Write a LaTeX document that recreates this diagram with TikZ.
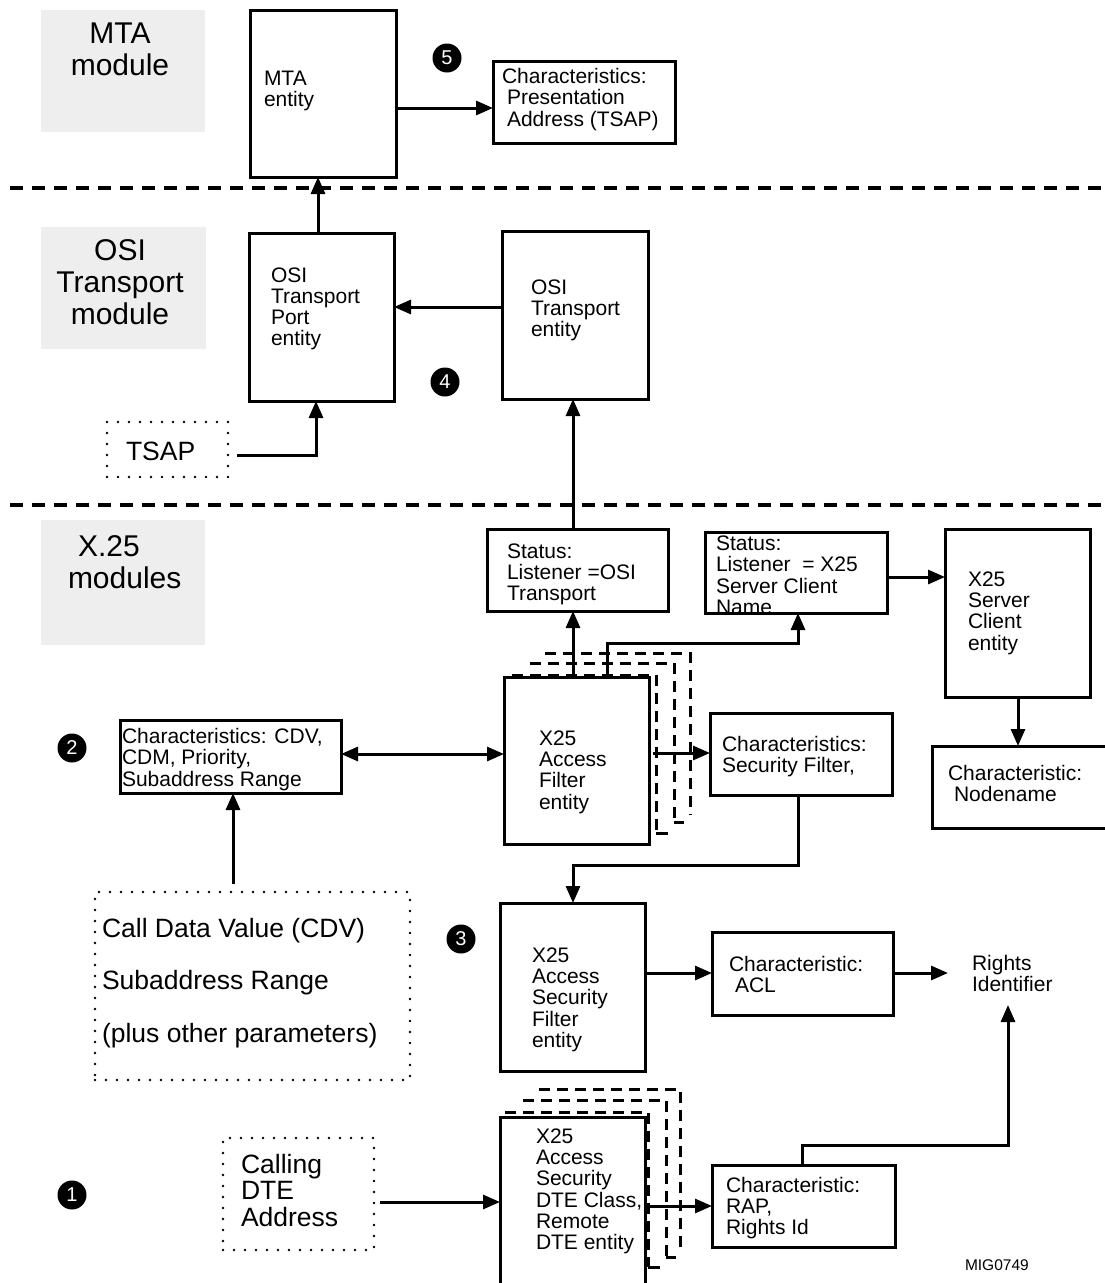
\documentclass[tikz,border=0pt]{standalone}
\usepackage{fontspec}
\setmainfont{Liberation Sans}
\usetikzlibrary{arrows.meta,calc}
\newcommand{\tl}[1]{\begin{tabular}[t]{@{}l@{}}#1\end{tabular}}
\newcommand{\tc}[1]{\begin{tabular}[t]{@{}c@{}}#1\end{tabular}}
\definecolor{modgray}{HTML}{EEEEEE}
\tikzset{
  every node/.style={inner sep=0pt, outer sep=0pt},
  box/.style={draw, line width=3pt, fill=white, anchor=north west, inner sep=0pt},
  dotbox/.style={draw, line width=2.6pt, dash pattern=on 0pt off 11pt, line cap=round, anchor=north west, inner sep=0pt},
  modbox/.style={fill=modgray, draw=none, anchor=north west, inner sep=0pt},
  txt/.style={anchor=base west, font=\fontsize{21}{21}\selectfont},
  bigtxt/.style={font=\fontsize{26.5}{26}\selectfont},
  modlabel/.style={anchor=base, font=\fontsize{30}{32}\selectfont},
  sepline/.style={line width=4pt, dash pattern=on 13pt off 9pt},
  layer/.style={line width=3pt, dash pattern=on 11pt off 7pt},
  tick/.style={line width=3pt},
  arr/.style={line width=3pt, -{Triangle[length=17pt,width=14pt]}},
  darr/.style={line width=3pt, {Triangle[length=17pt,width=14pt]}-{Triangle[length=17pt,width=14pt]}},
  num/.style={circle, fill=black, minimum size=29pt, text=white, font=\fontsize{20}{20}\selectfont},
}
\begin{document}
\begin{tikzpicture}[x=1pt,y=-1pt]
\useasboundingbox (0,0) rectangle (1105,1283);
\fill[white] (0,0) rectangle (1105,1283);
\clip (0,0) rectangle (1105,1283);

% module labels
\node[modbox, minimum width=164pt, minimum height=122pt] (gmta) at (41,10) {};
\node[modbox, minimum width=165pt, minimum height=122pt] (gosi) at (41,227) {};
\node[modbox, minimum width=164pt, minimum height=125pt] (gx25) at (41,520) {};
\node[modlabel] (lmta) at (120,43) {\tc{MTA\\module}};
\node[modlabel] (losi) at (120,260) {\tc{OSI\\Transport\\module}};
\node[modlabel, anchor=base west] (lx25) at (68,556) {\tl{\hspace{10pt}X.25\\modules}};

% separators
\draw[sepline] (10,188) -- (1105,188);
\draw[sepline] (10,505) -- (1105,505);

% ---- MTA level
\node[box, minimum width=146pt, minimum height=167pt] (mta) at (250,10) {};
\node[txt] (tmta) at (264,85) {\tl{MTA\\entity}};
\node[box, minimum width=182pt, minimum height=82pt] (tsapc) at (493,61) {};
\node[txt] (ttsapc) at (502,83) {\tl{Characteristics:\\\hspace{5pt}Presentation\\\hspace{5pt}Address (TSAP)}};
\node[num] (n5) at (447,58) {5};

% ---- OSI transport level
\node[box, minimum width=145pt, minimum height=168pt] (port) at (249,233) {};
\node[txt] (tport) at (271,282) {\tl{OSI\\Transport\\Port\\entity}};
\node[box, minimum width=146pt, minimum height=168pt] (osit) at (502,231) {};
\node[txt] (tosit) at (531,294) {\tl{OSI\\Transport\\entity}};
\node[num] (n4) at (445,382) {4};
\node[dotbox, minimum width=121pt, minimum height=55pt] (tsap) at (107,422) {};
\node[txt, bigtxt] (ttsap) at (126,460) {TSAP};

% ---- X.25 level
\node[box, minimum width=181pt, minimum height=82pt] (stosi) at (487,529) {};
\node[txt] (tstosi) at (507,558) {\tl{Status:\\Listener =OSI\\Transport}};
\node[txt] (tstx) at (716,550) {\tl{Status:\\Listener\ \ = X25\\Server Client\\Name}};
\node[box, fill=none, minimum width=182pt, minimum height=81pt] (stx) at (705,532) {};
\node[box, minimum width=145pt, minimum height=168pt] (sce) at (945,529) {};
\node[txt] (tsce) at (968,586) {\tl{X25\\Server\\Client\\entity}};
\node[box, minimum width=190pt, minimum height=82pt] (nodebox) at (932,746) {};
\node[txt] (tnode) at (948,780) {\tl{Characteristic:\\\hspace{6pt}Nodename}};

\node[box, minimum width=221pt, minimum height=73pt] (cdv) at (120,720) {};
\node[txt] (tcdv) at (122,743) {\tl{Characteristics: CDV,\\CDM, Priority,\\Subaddress Range}};
\node[num] (n2) at (72,748) {2};

% filter stack
\draw[layer] (545,653) -- (690,653) -- (690,815);
\draw[layer] (530,663) -- (674,663) -- (674,822);
\draw[tick] (674,822) -- (684,822);
\draw[layer] (512,675) -- (656,675) -- (656,833);
\draw[tick] (656,833) -- (668,833);
\node[box, minimum width=145pt, minimum height=167pt] (afe) at (504,677) {};
\node[txt] (tafe) at (539,745) {\tl{X25\\Access\\Filter\\entity}};

\node[box, minimum width=182pt, minimum height=82pt] (sfc) at (710,713) {};
\node[txt] (tsfc) at (722,751) {\tl{Characteristics:\\Security Filter,}};

\node[dotbox, minimum width=315pt, minimum height=188pt] (cdata) at (95,892) {};
\node[txt, font=\fontsize{26.5}{52.5}\selectfont] (tcdata) at (102,937) {\tl{Call Data Value (CDV)\\Subaddress Range\\(plus other parameters)}};
\node[num] (n3) at (461,939) {3};

\node[box, minimum width=145pt, minimum height=168pt] (asf) at (500,903) {};
\node[txt] (tasf) at (532,962) {\tl{X25\\Access\\Security\\Filter\\entity}};
\node[box, minimum width=181pt, minimum height=83pt] (acl) at (712,932) {};
\node[txt] (tacl) at (729,971) {\tl{Characteristic:\\\hspace{6pt}ACL}};
\node[txt] (rights) at (972,970) {\tl{Rights\\Identifier}};
\coordinate (rin) at (948,973);
\coordinate (rbot) at (1008,1005);

% DTE stack
\draw[layer] (539,1089) -- (680,1089) -- (680,1252);
\draw[layer] (523,1100) -- (666,1100) -- (666,1257);
\draw[tick] (666,1257) -- (676,1257);
\draw[layer] (505,1112) -- (648,1112) -- (648,1267);
\draw[tick] (648,1267) -- (660,1267);
\node[box, minimum width=145pt, minimum height=190pt] (dte) at (500,1117) {};
\node[txt] (tdte) at (536,1143) {\tl{X25\\Access\\Security\\DTE Class,\\Remote\\DTE entity}};

\node[dotbox, minimum width=151pt, minimum height=112pt] (calling) at (223,1138) {};
\node[txt, bigtxt] (tcalling) at (241,1173) {\tl{Calling\\DTE\\Address}};
\node[num] (n1) at (72,1195) {1};

\node[box, minimum width=183pt, minimum height=82pt] (rap) at (712,1165) {};
\node[txt] (trap) at (726,1192) {\tl{Characteristic:\\RAP,\\Rights Id}};

\node[anchor=base west, font=\fontsize{15.5}{16}\selectfont] (mig) at (965,1270) {MIG0749};

% ---- connectors
\draw[arr] (mta.east |- 0,108) -- (tsapc.west |- 0,108);
\draw[arr] (port.north -| 318,0) -- (mta.south -| 318,0);
\draw[arr] (osit.west |- 0,307) -- (port.east |- 0,307);
\draw[arr] (tsap.east |- 0,455) ++(9,0) -- (316,455) -- (port.south -| 316,0);
\draw[arr] (stosi.north -| 573,0) -- (osit.south -| 573,0);
\draw[arr] (afe.north -| 573,0) -- (stosi.south -| 573,0);
\draw[arr] (afe.north -| 607,0) -- (607,643) -- (798,643) -- (stx.south -| 798,0);
\draw[arr] (stx.east |- 0,577) -- (sce.west |- 0,577);
\draw[arr] (sce.south -| 1018,0) -- (nodebox.north -| 1018,0);
\draw[darr] (cdv.east |- 0,754) -- (afe.west |- 0,754);
\draw[arr] (afe.east |- 0,753) ++(4,0) -- (sfc.west |- 0,753);
\draw[arr] (sfc.south -| 798,0) -- (798,865) -- (573,865) -- (asf.north -| 573,0);
\draw[arr] (cdata.north -| 233,0) ++(0,-8) -- (cdv.south -| 233,0);
\draw[arr] (asf.east |- 0,973) -- (acl.west |- 0,973);
\draw[arr] (acl.east |- 0,973) -- (rin);
\draw[arr] (rap.north -| 802,0) -- (802,1145) -- (1008,1145) -- (rbot);
\draw[arr] (calling.east |- 0,1202) ++(6,0) -- (dte.west |- 0,1202);
\draw[arr] (dte.east |- 0,1206) ++(2,0) -- (rap.west |- 0,1206);
\end{tikzpicture}
\end{document}
